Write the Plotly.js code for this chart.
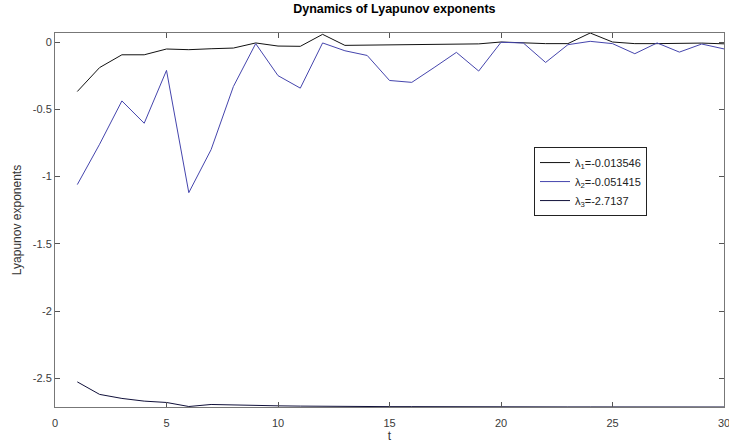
<!DOCTYPE html>
<html>
<head>
<meta charset="utf-8">
<script src="https://cdn.plot.ly/plotly-3.0.1.min.js"></script>
<style>html,body{margin:0;padding:0;background:#fff;}#chart{width:729px;height:444px;}</style>
</head>
<body>
<div id="chart"></div>
<script>
const t = [1,2,3,4,5,6,7,8,9,10,11,12,13,14,15,16,17,18,19,20,21,22,23,24,25,26,27,28,29,30];
const lambda1 = [-0.368,-0.19,-0.095,-0.095,-0.052,-0.057,-0.05,-0.045,-0.007,-0.03,-0.032,0.057,-0.025,-0.024,-0.022,-0.02,-0.018,-0.016,-0.014,0.0,-0.007,-0.012,-0.012,0.067,0.0,-0.012,-0.012,-0.01,-0.008,-0.013546];
const lambda2 = [-1.06,-0.76,-0.438,-0.604,-0.211,-1.12,-0.80,-0.331,-0.012,-0.25,-0.343,-0.007,-0.065,-0.10,-0.286,-0.30,-0.19,-0.077,-0.216,-0.002,-0.007,-0.152,-0.02,0.005,-0.012,-0.087,-0.007,-0.075,-0.015,-0.051415];
const lambda3 = [-2.527,-2.62,-2.65,-2.67,-2.68,-2.71,-2.695,-2.70,-2.70,-2.705,-2.707,-2.709,-2.71,-2.71,-2.711,-2.711,-2.712,-2.712,-2.712,-2.712,-2.713,-2.713,-2.713,-2.713,-2.713,-2.713,-2.713,-2.7137,-2.7137,-2.7137];
const seriesNames = ['λ<sub>1</sub>=-0.013546','λ<sub>2</sub>=-0.051415','λ<sub>3</sub>=-2.7137'];
const yTickVals = [0,-0.5,-1,-1.5,-2,-2.5];
const yTickText = ['0','-0.5','-1','-1.5','-2','-2.5'];

const traces = [
  {x:t, y:lambda1, name:seriesNames[0], mode:'lines', line:{color:'#111111', width:1}},
  {x:t, y:lambda2, name:seriesNames[1], mode:'lines', line:{color:'#4545ad', width:1}},
  {x:t, y:lambda3, name:seriesNames[2], mode:'lines', line:{color:'#10103a', width:1}}
];
const FONT = 'Liberation Sans, Arial, sans-serif';
const axisCommon = {
  showgrid:false, zeroline:false, showline:true, mirror:'ticks',
  linecolor:'#777777', linewidth:1, ticks:'inside', ticklen:5, tickcolor:'#555555',
  ticklabeloverflow:'allow',
  tickfont:{family:FONT, size:11, color:'#3a3a3a'}
};
const layout = {
  width:729, height:444,
  margin:{l:55, r:5, t:33, b:37},
  paper_bgcolor:'#ffffff', plot_bgcolor:'#ffffff',
  title:{text:'<b>Dynamics of Lyapunov exponents</b>', x:0.541, xanchor:'center', y:0.99, yanchor:'top',
         font:{family:FONT, size:12.5, color:'#000'}},
  xaxis:Object.assign({}, axisCommon, {range:[0,30], dtick:5, tick0:0, ticklabelstandoff:6,
         title:{text:'t', standoff:0, font:{family:FONT, size:12, color:'#333'}}}),
  yaxis:Object.assign({}, axisCommon, {range:[-2.7137,0.067], tickvals:yTickVals, ticktext:yTickText,
         title:{text:'Lyapunov exponents', standoff:8, font:{family:FONT, size:12, color:'#333'}}}),
  showlegend:true,
  legend:{x:0.716, y:0.695, xanchor:'left', yanchor:'top', bgcolor:'#fff', bordercolor:'#222', borderwidth:1,
          font:{family:FONT, size:11, color:'#222'}, tracegroupgap:0, itemwidth:30}
};
Plotly.newPlot('chart', traces, layout, {displayModeBar:false, staticPlot:true});
</script>
</body>
</html>
